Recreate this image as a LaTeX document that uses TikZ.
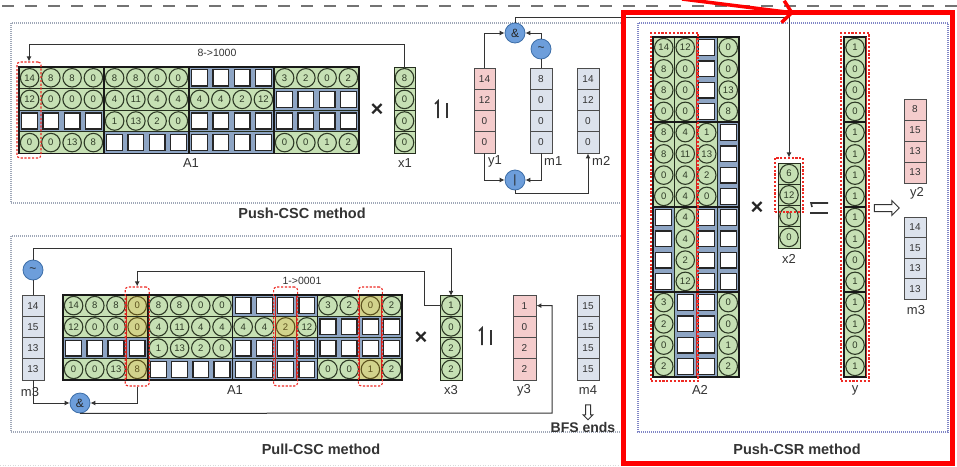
\documentclass[tikz,border=0pt]{standalone}
\usepackage{fontspec}
\setmainfont{Liberation Sans}
\usetikzlibrary{arrows.meta,calc,shapes.arrows}
\definecolor{gfill}{HTML}{C6E0B4}
\definecolor{gline}{HTML}{2E3A26}
\definecolor{pfill}{HTML}{F4CCCC}
\definecolor{bfill}{HTML}{DCE2EC}
\definecolor{gapc}{HTML}{8EA5C4}
\definecolor{opfill}{HTML}{6D9EDB}
\definecolor{opdraw}{HTML}{3C6EA8}
\definecolor{framec}{HTML}{A0A8B8}
\definecolor{txtc}{HTML}{333333}
\definecolor{redc}{HTML}{EE2A24}

\newcommand{\cellsG}[7]{%
 \foreach \v [count=\k from 0] in {#7} {
  \pgfmathtruncatemacro\rr{\k/#6}
  \pgfmathtruncatemacro\cc{\k-\rr*#6}
  \pgfmathsetmacro\xx{#2+\cc*#4}
  \pgfmathsetmacro\yy{#3+\rr*#5}
  \ifnum\v<0
   \fill[gapc] (\xx,\yy) rectangle ++(#4,#5);
   \node[ecell, minimum width=#4-5.5, minimum height=#5-5.5] (#1-\rr-\cc) at (\xx+#4/2,\yy+#5/2) {};
  \else
   \fill[gfill] (\xx,\yy) rectangle ++(#4,#5);
   \node[gcirc] (#1-\rr-\cc) at (\xx+#4/2,\yy+#5/2) {\v};
  \fi
 }}
\newcommand{\vecN}[7]{%
 \foreach \v [count=\k from 0] in {#7} {
  \node[vcell, fill=#6, minimum width=#4, minimum height=#5] (#1-\k) at (#2+#4/2, #3+\k*#5+#5/2) {\v};
 }}

\begin{document}
\begin{tikzpicture}[x=1pt,y=-1pt,
  gcirc/.style={circle, draw=gline, line width=1.1pt, minimum size=18.5pt, inner sep=0pt, font=\fontsize{9.5}{9.5}\selectfont, text=gline},
  ecell/.style={rectangle, fill=white, draw=black!85, line width=1.4pt, inner sep=0pt},
  vcell/.style={rectangle, draw=black!70, line width=0.9pt, inner sep=0pt, font=\fontsize{10}{10}\selectfont, text=txtc},
  grp/.style={draw=gline!80!black, line width=0.9pt},
  blk/.style={draw=black!90, line width=1.5pt},
  op/.style={circle, fill=opfill, draw=opdraw, line width=0.8pt, minimum size=20pt, inner sep=0pt, font=\fontsize{12}{12}\selectfont, text=black!85},
  conn/.style={draw=black!80, line width=1pt, -{Latex[length=5pt,width=5pt]}},
  plain/.style={draw=black!80, line width=1pt},
  lab/.style={font=\fontsize{13}{13}\selectfont, text=txtc, inner sep=0pt},
  title/.style={font=\bfseries\fontsize{14.5}{14.5}\selectfont, text=txtc, inner sep=0pt},
  frame/.style={draw=framec, line width=1.3pt, dash pattern=on 1pt off 1pt},
  rbox/.style={draw=redc, line width=1.1pt, dash pattern=on 2.2pt off 1.6pt, rounded corners=3pt, inner sep=0pt, minimum width=0pt, minimum height=0pt},
  rboxs/.style={rbox, sharp corners},
  redl/.style={draw=redc!85!black, line width=1pt},
  eqs/.style={draw=black!80, line width=1.6pt},
  times/.style={font=\bfseries\fontsize{22}{22}\selectfont, text=black!85, inner sep=0pt},
  harrow/.style={single arrow, draw=black!80, fill=white, line width=1pt, inner sep=3pt, single arrow head extend=4pt}
]
\useasboundingbox (0,0) rectangle (957,466);
\fill[white] (0,0) rectangle (957,466);

% top dashed rule
\draw[draw=black!55, line width=1.8pt, dash pattern=on 12pt off 11pt] (2,6) -- (957,6);

% panels
\draw[frame] (11,23) rectangle (622,203);
\draw[frame] (11,236) rectangle (622,432);
\draw[frame, draw=framec!80!blue] (638,23) rectangle (948,432);
\draw[draw=black!15, line width=1pt, dash pattern=on 1pt off 1.5pt] (0,465) -- (620,465);

\node[title] (t1) at (302,213) {Push-CSC method};
\node[title] (t2) at (321,449) {Pull-CSC method};
\node[title] (t3) at (797,449) {Push-CSR method};

%% ================= Push-CSC =================
\cellsG{P}{19}{67}{21.25}{21.6}{16}{14,8,8,0,8,8,0,0,-1,-1,-1,-1,3,2,0,2,
12,0,0,0,4,11,4,4,4,4,2,12,-1,-1,-1,-1,
-1,-1,-1,-1,1,13,2,0,-1,-1,-1,-1,-1,-1,-1,-1,
0,0,13,8,-1,-1,-1,-1,-1,-1,-1,-1,0,0,1,2}
\foreach \r in {0,1,2,3} \foreach \b in {0,1,2,3} \draw[grp] (19+\b*85,67+\r*21.6) rectangle ++(85,21.6);
\foreach \b in {0,1,2,3} \draw[blk] (19+\b*85,67) rectangle ++(85,86.4);
\node[lab] (lA1) at (191,163) {A1};
\node[rbox, minimum width=24pt, minimum height=96pt] (rb1) at (29,110) {};

\node[times] (tm1) at (377,110) {×};
\cellsG{x1}{394}{67}{21}{21.6}{1}{8,0,0,0}
\foreach \k in {0,1,2,3} \draw[grp] (394,67+\k*21.6) rectangle ++(21,21.6);
\node[lab] (lx1) at (405,163) {x1};

\draw[eqs] (438,118) -- (438,101) -- (435,104);
\draw[eqs] (447,118) -- (447,103);

\vecN{y1}{474}{68}{21}{21.25}{pfill}{14,12,0,0}
\vecN{m1}{530}{68}{22}{21.25}{bfill}{8,0,0,0}
\vecN{m2}{577}{68}{22}{21.25}{bfill}{14,12,0,0}
\node[lab, anchor=west] (ly1) at (488,161) {y1};
\node[lab, anchor=west] (lm1) at (544,161) {m1};
\node[lab, anchor=west] (lm2) at (592,161) {m2};

\node[op] (and1) at (515,33) {\&};
\node[op] (tilde1) at (541,49) {\textasciitilde};
\node[op] (or1) at (515,180) {|};

\draw[conn] (x1-0-0.north) -- ++(0,-24) -| (rb1.north);
\node[font=\fontsize{10.5}{10.5}\selectfont, text=txtc, inner sep=0pt] (lab81) at (217,53) {8->1000};

\draw[conn] (y1-0.north) |- (and1.west);
\draw[plain] (m1-0.north) -- (tilde1.south);
\draw[conn] (tilde1.north) |- (and1.east);
\draw[conn] (y1-3.south) |- (or1.west);
\draw[conn] (m1-3.south) |- (or1.east);
\draw[conn] (or1.south) -- ++(0,3) -| (m2-3.south);

%% ================= Pull-CSC =================
\cellsG{Q}{63}{295}{21.2}{21.25}{16}{14,8,8,0,8,8,0,0,-1,-1,-1,-1,3,2,0,2,
12,0,0,0,4,11,4,4,4,4,2,12,-1,-1,-1,-1,
-1,-1,-1,-1,1,13,2,0,-1,-1,-1,-1,-1,-1,-1,-1,
0,0,13,8,-1,-1,-1,-1,-1,-1,-1,-1,0,0,1,2}
\foreach \c/\r in {3/0,3/1,3/3,10/1,14/0,14/3} \fill[orange!70!yellow, opacity=0.22] (63+\c*21.2,295+\r*21.25) rectangle ++(21.2,21.25);
\foreach \r in {0,1,2,3} \foreach \b in {0,1,2,3} \draw[grp] (63+\b*84.8,295+\r*21.25) rectangle ++(84.8,21.25);
\foreach \c in {3,10,14} {\draw[redl] (63+\c*21.2,295) -- ++(0,85); \draw[redl] (63+\c*21.2+21.2,295) -- ++(0,85);}
\foreach \b in {0,1,2,3} \draw[blk] (63+\b*84.8,295) rectangle ++(84.8,85);
\node[lab] (lA1b) at (235,390) {A1};
\node[rbox, minimum width=24pt, minimum height=99pt] (rb2a) at (137.2,336.5) {};
\node[rbox, minimum width=24pt, minimum height=99pt] (rb2b) at (285.6,336.5) {};
\node[rbox, minimum width=24pt, minimum height=99pt] (rb2c) at (370.4,336.5) {};

\node[times] (tm2) at (421,338) {×};
\cellsG{x3}{440}{295}{22}{21.25}{1}{1,0,2,2}
\foreach \k in {0,1,2,3} \draw[grp] (440,295+\k*21.25) rectangle ++(22,21.25);
\node[lab] (lx3) at (451,390) {x3};

\draw[eqs] (482,345) -- (482,328) -- (479,331);
\draw[eqs] (491,345) -- (491,330);

\vecN{y3}{513}{295}{23}{21.25}{pfill}{1,0,2,2}
\vecN{m4}{577}{295}{22}{21.25}{bfill}{15,15,15,15}
\vecN{m3}{22}{295}{22}{21.25}{bfill}{14,15,13,13}
\node[lab] (ly3) at (524,390) {y3};
\node[lab] (lm4) at (588,390) {m4};
\node[lab] (lm3) at (30,392) {m3};
\node[harrow, shape border rotate=270, minimum height=15pt, inner sep=2pt, single arrow head extend=2.5pt] (hd) at (588,411) {};
\node[font=\bfseries\fontsize{14}{14}\selectfont, text=txtc, inner sep=0pt] (bfs) at (583,427) {BFS ends};

\node[op] (tilde2) at (33,270) {\textasciitilde};
\node[op] (and2) at (80,403) {\&};
\coordinate (rt) at (552,413);

\draw[conn] (tilde2.north) -- ++(0,-11) -| (x3-0-0.north);
\draw[plain] (tilde2.south) -- (m3-0.north);
\draw[conn] (m3-3.south) |- (and2.west);
\draw[conn] (rb2a.south) |- (and2.east);
\draw[conn] (and2.south) -- (rt) |- (y3-0.east);
\draw[conn] (x3-0-0.west) -- ++(-17,0) |- ($(rb2a.north)+(0,-15)$) -- (rb2a.north);
\node[font=\fontsize{10.5}{10.5}\selectfont, text=txtc, inner sep=0pt] (lab10) at (302,281) {1->0001};

%% ================= Push-CSR =================
\cellsG{R}{653}{37}{21.5}{21.25}{4}{14,12,-1,0,
8,0,-1,0,
8,0,-1,13,
0,0,-1,8,
8,4,1,-1,
8,11,13,-1,
0,4,2,-1,
0,4,0,-1,
-1,4,-1,-1,
-1,4,-1,-1,
-1,2,-1,-1,
-1,12,-1,-1,
3,-1,-1,0,
2,-1,-1,0,
0,-1,-1,1,
2,-1,-1,2}
\foreach \c in {0,1,2,3} \foreach \b in {0,1,2,3} \draw[grp] (653+\c*21.5,37+\b*85) rectangle ++(21.5,85);
\draw[redl] (696,37) -- ++(0,340);
\foreach \b in {0,1,2,3} \draw[blk] (653,37+\b*85) rectangle ++(86,85);
\node[rboxs, minimum width=47pt, minimum height=348pt] (rb3) at (674.5,207) {};
\node[lab] (lA2) at (700,390) {A2};

\node[times] (tm3) at (757,208) {×};
\cellsG{x2}{778}{163}{22}{21.25}{1}{6,12,0,0}
\foreach \k in {0,1,2,3} \draw[grp] (778,163+\k*21.25) rectangle ++(22,21.25);
\node[rboxs, minimum width=28pt, minimum height=54pt] (rbx2) at (789,185) {};
\node[lab] (lx2) at (789,259) {x2};

\draw[eqs] (812,207) -- (811,203) -- (828,203);
\draw[eqs] (810,213) -- (828,213);

\cellsG{yv}{844}{37}{22}{21.25}{1}{1,0,0,0,1,1,1,1,1,1,0,1,1,1,0,1}
\foreach \b in {0,1,2,3} \draw[blk, line width=1.2pt] (844,37+\b*85) rectangle ++(22,85);
\draw[redl, line width=0.8pt] (866,37) -- (866,377);
\node[rboxs, minimum width=28pt, minimum height=348pt] (rby) at (855,207) {};
\node[lab] (lyv) at (855,390) {y};

\node[harrow, minimum height=25pt] (ha) at (885,208) {};

\vecN{y2}{904}{99}{22}{21}{pfill}{8,15,13,13}
\vecN{m3b}{904}{217}{22}{20.5}{bfill}{14,15,13,13}
\node[lab] (ly2) at (917,193) {y2};
\node[lab] (lm3b) at (916,310) {m3};

% long feedback connector from & to x2
\coordinate (topbend) at (515,17);
\draw[conn] (and1.north) -- (topbend) -| (rbx2.north);

% red highlight frame and arrow
\draw[draw=red, line width=5pt] (623,12.5) rectangle (952,463);
\draw[draw=red, line width=3.5pt, -{Straight Barb[length=9pt,width=22pt]}] (682,-1) -- (794,13);
\end{tikzpicture}
\end{document}
